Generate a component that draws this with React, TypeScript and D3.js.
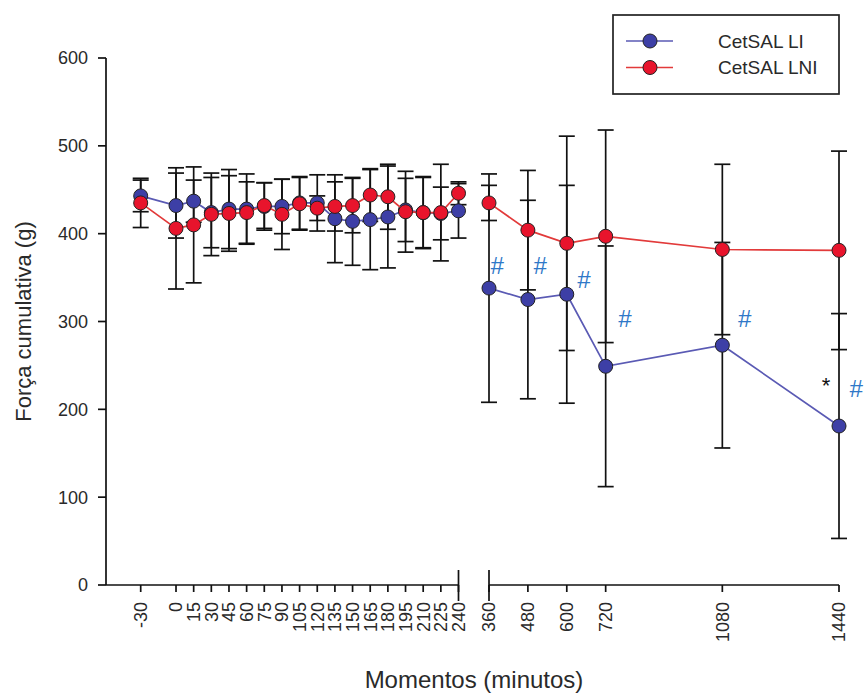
import React from "react";
import * as d3 from "d3";

const leftTimes = [-30, 0, 15, 30, 45, 60, 75, 90, 105, 120, 135, 150, 165, 180, 195, 210, 225, 240];
const rightTimes = [360, 480, 600, 720, 1080, 1440];

const liLeft = [443, 432, 437, 424, 428, 428, 431, 431, 435, 435, 417, 414, 416, 419, 427, 424, 423, 426];
const liLeftErr = [18, 37, 24, 40, 45, 40, 27, 31, 30, 32, 50, 50, 57, 58, 36, 40, 30, 31];
const lniLeft = [435, 406, 410, 422, 423, 424, 432, 422, 434, 429, 431, 432, 444, 442, 425, 424, 424, 446];
const lniLeftErr = [28, 69, 66, 47, 43, 35, 26, 40, 30, 14, 28, 31, 30, 37, 46, 41, 55, 13];

const liRight = [338, 325, 331, 249, 273, 181];
const liRightErr = [130, 113, 124, 137, 117, 128];
const lniRight = [435, 404, 389, 397, 382, 381];
const lniRightErr = [20, 68, 122, 121, 97, 113];

const yTicks = [0, 100, 200, 300, 400, 500, 600];

const seriesNames = ["CetSAL LI", "CetSAL LNI"];

// significance marks: time, value, horizontal offset (px)
const marks = [
  { label: "#", t: 360, v: 364, dx: 8 },
  { label: "#", t: 480, v: 364, dx: 12 },
  { label: "#", t: 600, v: 348, dx: 17 },
  { label: "#", t: 720, v: 304, dx: 19 },
  { label: "#", t: 1080, v: 304, dx: 22 },
  { label: "#", t: 1440, v: 224, dx: 17 },
  { label: "*", t: 1440, v: 232, dx: -13 },
];

const BLUE_FILL = "#3d3fa6";
const BLUE_LINE = "#5a5ab4";
const RED_FILL = "#e8142c";
const RED_LINE = "#e23a3a";
const FONT = "Liberation Sans, Arial, sans-serif";
const TXT = "#2a2a2a";

export default function App() {
  const y = d3.scaleLinear().domain([0, 600]).range([585, 58]);
  const xL = d3.scaleLinear().domain([-30, 240]).range([140.7, 458.5]);
  const xR = d3.scaleLinear().domain([360, 1440]).range([489, 839]);

  const line = d3.line<[number, number]>().x((d) => d[0]).y((d) => d[1]);

  const series = [
    { fill: BLUE_FILL, stroke: BLUE_LINE, left: liLeft, leftErr: liLeftErr, right: liRight, rightErr: liRightErr },
    { fill: RED_FILL, stroke: RED_LINE, left: lniLeft, leftErr: lniLeftErr, right: lniRight, rightErr: lniRightErr },
  ];

  const capW = 8;

  const errorBars = (xs: number[], means: number[], errs: number[], key: string) =>
    xs.map((x, i) => {
      const y1 = y(means[i] + errs[i]);
      const y2 = y(means[i] - errs[i]);
      return (
        <g key={key + i} stroke="#111" strokeWidth={1.7}>
          <line x1={x} x2={x} y1={y1} y2={y2} />
          <line x1={x - capW} x2={x + capW} y1={y1} y2={y1} />
          <line x1={x - capW} x2={x + capW} y1={y2} y2={y2} />
        </g>
      );
    });

  const leftXs = leftTimes.map((t) => xL(t));
  const rightXs = rightTimes.map((t) => xR(t));

  const xTick = (x: number, t: number, k: string) => (
    <g key={k}>
      <line x1={x} x2={x} y1={y(0)} y2={y(0) + 7} stroke="#111" strokeWidth={1.7} />
      <text
        transform={`translate(${x},${y(0) + 17}) rotate(-90)`}
        textAnchor="end"
        dy="0.36em"
        fontSize={18}
        fill={TXT}
      >
        {t}
      </text>
    </g>
  );

  return (
    <svg width={866} height={695} style={{ position: "absolute", left: 0, top: 0, background: "#fff" }} fontFamily={FONT}>
      <rect width={866} height={695} fill="#fff" />
      {/* Y axis */}
      <line x1={106} x2={106} y1={y(600)} y2={y(0)} stroke="#111" strokeWidth={1.7} />
      {yTicks.map((t) => (
        <g key={"yt" + t}>
          <line x1={98} x2={106} y1={y(t)} y2={y(t)} stroke="#111" strokeWidth={1.7} />
          <text x={88} y={y(t)} dy="0.36em" textAnchor="end" fontSize={18} fill={TXT}>
            {t}
          </text>
        </g>
      ))}
      <text
        transform={`translate(23,${(y(0) + y(600)) / 2}) rotate(-90)`}
        textAnchor="middle"
        dy="0.36em"
        fontSize={22}
        fill={TXT}
      >
        Força cumulativa (g)
      </text>

      {/* X axis left segment */}
      <line x1={106} x2={xL(240)} y1={y(0)} y2={y(0)} stroke="#111" strokeWidth={1.7} />
      <line x1={xL(240)} x2={xL(240)} y1={y(0) - 15} y2={y(0) + 16} stroke="#111" strokeWidth={1.7} />
      {/* X axis right segment */}
      <line x1={xR(360)} x2={xR(1440)} y1={y(0)} y2={y(0)} stroke="#111" strokeWidth={1.7} />
      <line x1={xR(360)} x2={xR(360)} y1={y(0) - 15} y2={y(0) + 16} stroke="#111" strokeWidth={1.7} />

      {leftTimes.map((t) => xTick(xL(t), t, "xl" + t))}
      {rightTimes.map((t) => xTick(xR(t), t, "xr" + t))}

      <text x={474} y={688} textAnchor="middle" fontSize={24} fill={TXT}>
        Momentos (minutos)
      </text>

      {/* Error bars */}
      {series.map((s, si) => (
        <g key={"eb" + si}>
          {errorBars(leftXs, s.left, s.leftErr, "l" + si)}
          {errorBars(rightXs, s.right, s.rightErr, "r" + si)}
        </g>
      ))}

      {/* Lines & points */}
      {series.map((s, si) => (
        <g key={"s" + si}>
          <path
            d={line(leftXs.map((x, i) => [x, y(s.left[i])]))!}
            fill="none"
            stroke={s.stroke}
            strokeWidth={1.7}
          />
          <path
            d={line(rightXs.map((x, i) => [x, y(s.right[i])]))!}
            fill="none"
            stroke={s.stroke}
            strokeWidth={1.7}
          />
          {leftXs.map((x, i) => (
            <circle key={"pl" + i} cx={x} cy={y(s.left[i])} r={7} fill={s.fill} stroke="#222" strokeWidth={1} />
          ))}
          {rightXs.map((x, i) => (
            <circle key={"pr" + i} cx={x} cy={y(s.right[i])} r={7} fill={s.fill} stroke="#222" strokeWidth={1} />
          ))}
        </g>
      ))}

      {/* significance marks */}
      {marks.map((m, i) =>
        m.label === "#" ? (
          <text
            key={"m" + i}
            x={xR(m.t) + m.dx}
            y={y(m.v)}
            dy="0.36em"
            textAnchor="middle"
            fontSize={24}
            fontStyle="italic"
            fill="#2f78c8"
          >
            #
          </text>
        ) : (
          <text key={"m" + i} x={xR(m.t) + m.dx} y={y(m.v)} dy="0.55em" textAnchor="middle" fontSize={22} fill="#111">
            *
          </text>
        )
      )}

      {/* Legend */}
      <rect x={613} y={15} width={226} height={79} fill="#fff" stroke="#222" strokeWidth={1.7} />
      {seriesNames.map((name, i) => {
        const ly = 41 + i * 26.5;
        const s = series[i];
        return (
          <g key={"lg" + i}>
            <line x1={626} x2={673} y1={ly} y2={ly} stroke={s.stroke} strokeWidth={1.7} />
            <circle cx={650} cy={ly} r={7} fill={s.fill} stroke="#222" strokeWidth={1} />
            <text x={718} y={ly} dy="0.36em" fontSize={19} fill={TXT}>
              {name}
            </text>
          </g>
        );
      })}
    </svg>
  );
}
